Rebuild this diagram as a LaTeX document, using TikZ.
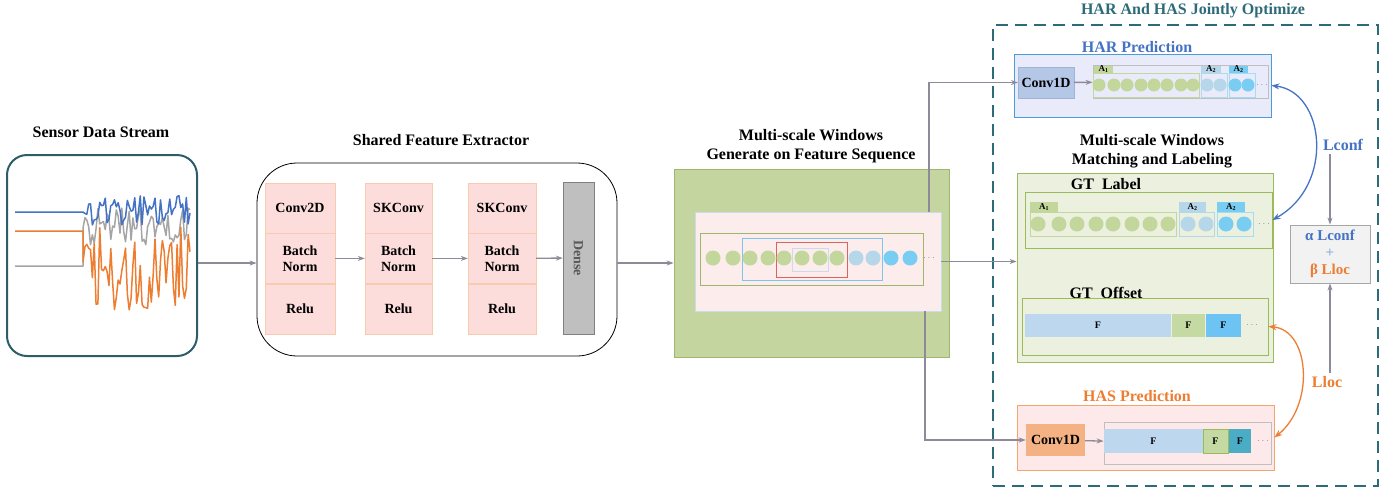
\documentclass[tikz,border=0pt]{standalone}
\usepackage{fontspec}
\setmainfont{Liberation Serif}
\usepackage{tikz}
\usetikzlibrary{arrows.meta,positioning}

\definecolor{tealdark}{HTML}{2C5D69}
\definecolor{tealdash}{HTML}{2E6B78}
\definecolor{flowgray}{HTML}{8E8A99}
\definecolor{layerfill}{HTML}{FDDCDC}
\definecolor{layeredge}{HTML}{F8CBAD}
\definecolor{densefill}{HTML}{BFBFBF}
\definecolor{denseedge}{HTML}{808080}
\definecolor{winfill}{HTML}{C4D59F}
\definecolor{winedge}{HTML}{9DB86C}
\definecolor{seqfill}{HTML}{FCEDEC}
\definecolor{seqedge}{HTML}{C9DCEB}
\definecolor{ballgreen}{HTML}{C3D69B}
\definecolor{balllight}{HTML}{B6D6EA}
\definecolor{ballblue}{HTML}{7ACDF2}
\definecolor{winred}{HTML}{D9655F}
\definecolor{winblue}{HTML}{7CC6EE}
\definecolor{harfill}{HTML}{E9EBFB}
\definecolor{haredge}{HTML}{4A9BDB}
\definecolor{harblue}{HTML}{4472C4}
\definecolor{convblue}{HTML}{B4C7E7}
\definecolor{convblueedge}{HTML}{9FB4D4}
\definecolor{matchfill}{HTML}{EBF1DE}
\definecolor{matchedge}{HTML}{9BBB59}
\definecolor{hasfill}{HTML}{FDE9E9}
\definecolor{hasedge}{HTML}{F4A46F}
\definecolor{hasorange}{HTML}{ED7D31}
\definecolor{convorange}{HTML}{F4B183}
\definecolor{barlight}{HTML}{BDD7EE}
\definecolor{bargreen}{HTML}{C5D9A2}
\definecolor{barblue}{HTML}{6EC3F5}
\definecolor{barteal}{HTML}{4BACC6}
\definecolor{seqgray}{HTML}{BFBFBF}
\definecolor{lossfill}{HTML}{F2F2F2}
\definecolor{lossedge}{HTML}{A6A6A6}
\definecolor{plusblue}{HTML}{8FB4E3}
\definecolor{sigblue}{HTML}{4472C4}
\definecolor{sigorange}{HTML}{ED7D31}
\definecolor{siggray}{HTML}{A5A5A5}

\begin{document}
\begin{tikzpicture}[x=1pt,y=-1pt,
  title/.style={font=\fontsize{16}{19}\selectfont\bfseries, align=center},
  layer/.style={draw=layeredge, fill=layerfill, minimum width=#1, minimum height=50pt, inner sep=0pt, align=center, font=\fontsize{14}{16}\selectfont\bfseries},
  flow/.style={draw=flowgray, line width=1.3pt, -{Stealth[length=7pt,width=5pt]}},
  ball/.style={circle, fill=#1, minimum size=15pt, inner sep=0pt},
  smallball/.style={circle, fill=#1, minimum size=13pt, inner sep=0pt},
  tab/.style={fill=#1, inner sep=0pt, font=\fontsize{9}{9}\selectfont\bfseries},
  bar/.style={fill=#1, inner sep=0pt, font=\fontsize{10}{10}\selectfont\bfseries},
  dots/.style={font=\fontsize{10}{10}\selectfont, text=flowgray, inner sep=0pt},
  lossarc/.style={line width=1.3pt, {Stealth[length=8pt,width=6pt]}-{Stealth[length=8pt,width=6pt]}}]

\useasboundingbox (0,0) rectangle (1395,491);

% sensor input
\node[title] (sensortitle) at (101,132) {Sensor Data Stream};
\node[draw=tealdark, line width=2pt, rounded corners=20pt, minimum width=190pt, minimum height=201pt] (sensor) at (102,255.5) {};
\pgfmathsetseed{23}
\draw[siggray, line width=1.5pt, line join=round] (15,266) -- (83,266) -- (83,228) -- plot[domain=85:190, samples=58] (\x,{228+20*rand});
\draw[sigorange, line width=1.5pt, line join=round] (15,231) -- (83,231) -- (83,262) -- plot[domain=85:190, samples=58] (\x,{268+42*rand});
\draw[sigblue, line width=1.5pt, line join=round] (15,212) -- (83,212) -- plot[domain=85:190, samples=58] (\x,{210+15*rand});

% feature extractor
\node[title] (extitle) at (441,140) {Shared Feature Extractor};
\node[draw, line width=0.8pt, rounded corners=40pt, minimum width=360pt, minimum height=193pt] (extractor) at (437,259.5) {};
\node[layer=70pt] (c1a) at (300,208) {Conv2D};
\node[layer=70pt, below=0pt of c1a] (c1b) {Batch\\Norm};
\node[layer=70pt, below=0pt of c1b] (c1c) {Relu};
\node[layer=67pt] (c2a) at (398.5,208) {SKConv};
\node[layer=67pt, below=0pt of c2a] (c2b) {Batch\\Norm};
\node[layer=67pt, below=0pt of c2b] (c2c) {Relu};
\node[layer=68pt] (c3a) at (502,208) {SKConv};
\node[layer=68pt, below=0pt of c3a] (c3b) {Batch\\Norm};
\node[layer=68pt, below=0pt of c3b] (c3c) {Relu};
\node[draw=denseedge, fill=densefill, rotate=-90, minimum width=152pt, minimum height=31pt, text=black!65, font=\fontsize{14}{16}\selectfont\bfseries] (dense) at (578.5,258) {Dense};

\draw[flow] (c1b) -- (c2b);
\draw[flow] (c2b) -- (c3b);
\draw[flow] (c3b) -- (dense);

% multi-scale windows
\node[title] (wintitle) at (811,146) {Multi-scale Windows\\Generate on Feature Sequence};
\node[draw=winedge, fill=winfill, line width=0.8pt, minimum width=275pt, minimum height=188pt] (win) at (811.5,263) {};
\node[draw=seqedge, fill=seqfill, line width=0.8pt, minimum width=246pt, minimum height=99pt] (winseq) at (818,261.5) {};
\node[draw=winedge, line width=0.7pt, minimum width=223pt, minimum height=52pt] (wscale1) at (811.5,259) {};
\node[draw=winblue, line width=0.8pt, minimum width=140pt, minimum height=42pt] (wscale2) at (812,259) {};
\node[draw=winred, line width=0.8pt, minimum width=71pt, minimum height=35pt] (wscale3) at (811.5,259.5) {};
\node[draw=seqedge, line width=0.8pt, minimum width=36pt, minimum height=23pt] (wscale4) at (810,259.5) {};
\foreach \cx/\cc [count=\i] in {713/ballgreen,733/ballgreen,750/ballgreen,768/ballgreen,784/ballgreen,802/ballgreen,820/ballgreen,837/ballgreen,856/balllight,873/balllight,891/ballblue,910/ballblue}
  \node[ball=\cc] (w\i) at (\cx,258) {};
\node[dots] (wdots) at (929,258) {$\cdots$};

\draw[flow] (sensor.east |- win.west) -- (extractor.west |- win.west);
\draw[flow] (extractor.east |- win.west) -- (win.west);

% joint optimization frame
\node[title, text=tealdash] (jointtitle) at (1193,11) {HAR And HAS Jointly Optimize};
\node[draw=tealdash, line width=1.6pt, dash pattern=on 12pt off 7pt, minimum width=385pt, minimum height=461pt] (joint) at (1185.5,255.5) {};

% HAR branch
\node[draw=haredge, fill=harfill, line width=0.8pt, minimum width=257pt, minimum height=63pt] (harbox) at (1142.5,85.5) {};
\node[title, text=harblue] (hartitle) at (1137,47) {HAR Prediction};
\node[draw=convblueedge, fill=convblue, minimum width=54pt, minimum height=31pt, font=\fontsize{14}{16}\selectfont\bfseries] (harconv) at (1046,82.5) {Conv1D};
\node[draw=seqgray, line width=0.8pt, minimum width=175pt, minimum height=33pt] (harseq) at (1180.5,82) {};
\node[tab=ballgreen, minimum width=19pt, minimum height=7pt] (hta) at (1103.5,69.5) {A\textsubscript{1}};
\node[draw=ballgreen, line width=0.7pt, minimum width=106pt, minimum height=24pt] (hga) at (1146,85) {};
\node[tab=balllight, minimum width=20pt, minimum height=7pt] (htb) at (1211,69.5) {A\textsubscript{2}};
\node[draw=balllight, line width=0.7pt, minimum width=26pt, minimum height=24pt] (hgb) at (1214,85) {};
\node[tab=ballblue, minimum width=19pt, minimum height=7pt] (htc) at (1238.5,69.5) {A\textsubscript{2}};
\node[draw=ballblue!70, line width=0.7pt, minimum width=26pt, minimum height=24pt] (hgc) at (1242,85) {};
\foreach \cx/\cc [count=\i] in {1099/ballgreen,1114/ballgreen,1127/ballgreen,1141/ballgreen,1154/ballgreen,1167/ballgreen,1181/ballgreen,1193/ballgreen,1207/balllight,1220/balllight,1235/ballblue,1248/ballblue}
  \node[smallball=\cc] (h\i) at (\cx,85) {};
\node[dots] (hdots) at (1262,85) {$\cdots$};
\draw[flow] (harconv) -- (harseq);

% matching and labeling
\node[title] (matchtitle) at (1152,151) {Multi-scale Windows\\Matching and Labeling};
\node[draw=matchedge, fill=matchfill, line width=0.8pt, minimum width=256pt, minimum height=189pt] (match) at (1145,267.5) {};
\node[title] (gtlabtitle) at (1106,184) {GT\enspace Label};
\node[draw=matchedge, line width=0.8pt, minimum width=247pt, minimum height=56pt] (gtlab) at (1148.5,220) {};
\node[tab=ballgreen, minimum width=28pt, minimum height=10pt] (gta) at (1044,207) {A\textsubscript{1}};
\node[draw=ballgreen, line width=0.7pt, minimum width=146pt, minimum height=24pt] (gga) at (1103,224) {};
\node[tab=balllight, minimum width=27pt, minimum height=10pt] (gtb) at (1192.5,207) {A\textsubscript{2}};
\node[draw=balllight, line width=0.7pt, minimum width=35pt, minimum height=24pt] (ggb) at (1196.5,224) {};
\node[tab=ballblue, minimum width=28pt, minimum height=10pt] (gtc) at (1231,207) {A\textsubscript{2}};
\node[draw=ballblue!70, line width=0.7pt, minimum width=36pt, minimum height=24pt] (ggc) at (1235,224) {};
\foreach \cx/\cc [count=\i] in {1038/ballgreen,1059/ballgreen,1077/ballgreen,1096/ballgreen,1113/ballgreen,1132/ballgreen,1150/ballgreen,1168/ballgreen,1188/balllight,1206/balllight,1226/ballblue,1244/ballblue}
  \node[ball=\cc] (g\i) at (\cx,224) {};
\node[dots] (gdots) at (1264,224) {$\cdots$};

\node[title] (gtofftitle) at (1106,293) {GT\enspace Offset};
\node[draw=matchedge, line width=0.8pt, minimum width=246pt, minimum height=57pt] (gtoff) at (1145,326.5) {};
\node[bar=barlight, minimum width=146pt, minimum height=23pt] (gf1) at (1098,325.5) {F};
\node[bar=bargreen, minimum width=33pt, minimum height=23pt] (gf2) at (1188.5,325.5) {F};
\node[bar=barblue, minimum width=35pt, minimum height=23pt] (gf3) at (1223.5,325.5) {F};
\node[dots] (gfdots) at (1252,325) {$\cdots$};

% HAS branch
\node[title, text=hasorange] (hastitle) at (1137,396) {HAS Prediction};
\node[draw=hasedge, fill=hasfill, line width=0.8pt, minimum width=257pt, minimum height=65pt] (hasbox) at (1145.5,437.5) {};
\node[fill=convorange, minimum width=59pt, minimum height=32pt, font=\fontsize{14}{16}\selectfont\bfseries] (hasconv) at (1055.5,440) {Conv1D};
\node[draw=seqgray, line width=0.8pt, minimum width=167pt, minimum height=42pt] (hasseq) at (1187.5,443) {};
\node[bar=barlight, minimum width=99pt, minimum height=24pt] (sf1) at (1153.5,441) {F};
\node[bar=bargreen, draw=matchedge, minimum width=25pt, minimum height=24pt] (sf2) at (1215.5,441) {F};
\node[bar=barteal, minimum width=22pt, minimum height=24pt] (sf3) at (1240,441) {F};
\node[dots] (sfdots) at (1263,441) {$\cdots$};
\draw[flow] (hasconv) -- (hasseq);

% windows feed the three heads
\coordinate (tapup) at (929,212);
\coordinate (tapdown) at (925,311);
\draw[flow] (winseq.east) -- (winseq.east -| match.west);
\draw[flow] (tapup) |- (harconv.west);
\draw[flow] (tapdown) |- (hasconv.west);

% losses
\node[draw=lossedge, fill=lossfill, line width=0.8pt, minimum width=80pt, minimum height=58pt, align=center, font=\fontsize{15}{17}\selectfont\bfseries] (loss) at (1330,254) {\textcolor{harblue}{α Lconf}\\\textcolor{plusblue}{+}\\\textcolor{hasorange}{β Lloc}};
\node[title, text=harblue] (lconf) at (1343,145) {Lconf};
\node[title, text=hasorange] (lloc) at (1327,382) {Lloc};
\draw[flow] (loss.north |- lconf.south) -- (loss.north);
\draw[flow] (loss.south |- lloc.north) -- (loss.south);
\draw[lossarc, harblue] (harbox.east) .. controls (1325,92) and (1335,185) .. (gtlab.east);
\draw[lossarc, hasorange] (gtoff.east) .. controls (1310,330) and (1315,405) .. (hasbox.east);

\end{tikzpicture}
\end{document}
